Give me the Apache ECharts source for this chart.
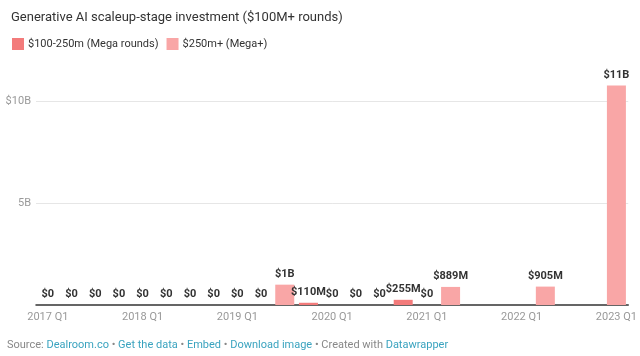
<!DOCTYPE html>
<html>
<head>
<meta charset="utf-8">
<script src="https://cdn.jsdelivr.net/npm/echarts@6/dist/echarts.min.js"></script>
<style>
html,body{margin:0;padding:0;background:#fff;}
#chart{width:640px;height:356px;}
</style>
</head>
<body>
<div id="chart"></div>
<script>
// Quarters 2017 Q1 .. 2023 Q1
const categories = [
  '2017 Q1','2017 Q2','2017 Q3','2017 Q4',
  '2018 Q1','2018 Q2','2018 Q3','2018 Q4',
  '2019 Q1','2019 Q2','2019 Q3','2019 Q4',
  '2020 Q1','2020 Q2','2020 Q3','2020 Q4',
  '2021 Q1','2021 Q2','2021 Q3','2021 Q4',
  '2022 Q1','2022 Q2','2022 Q3','2022 Q4',
  '2023 Q1'
];
// $M per quarter; null where the reference is hidden
const megaRounds = [0,0,0,0, 0,0,0,0, 0,0,0,110, 0,0,0,255, 0,0,null,null, null,0,null,null, 0];
const megaPlus   = [0,0,0,0, 0,0,0,0, 0,0,1000,0, 0,0,0,0, 0,889,null,null, null,905,null,null, 10800];
const yTickLabels = {0:'', 5000:'5B', 10000:'$10B'};

function fmtTotal(v){
  if (v === 0) return '$0';
  if (v >= 1000) return '$' + Math.round(v/1000) + 'B';
  return '$' + v + 'M';
}
const totals = categories.map((c,i)=> (megaRounds[i]==null && megaPlus[i]==null) ? null : (megaRounds[i]||0)+(megaPlus[i]||0));

const chart = echarts.init(document.getElementById('chart'), null, {renderer:'canvas'});
const FONT = 'Roboto, "Noto Sans", sans-serif';
chart.setOption({
  animation:false,
  textStyle:{fontFamily:FONT},
  title:{
    text:'Generative AI scaleup-stage investment ($100M+ rounds)',
    left:6, top:6,
    textStyle:{fontSize:13, fontWeight:'normal', color:'#333', fontFamily:FONT}
  },
  legend:{
    left:7, top:33, itemWidth:12, itemHeight:12, itemGap:8, icon:'rect',
    textStyle:{fontSize:11, color:'#333', fontFamily:FONT, padding:[0,0,0,-1]},
    data:['$100-250m (Mega rounds)','$250m+ (Mega+)']
  },
  grid:{left:36, right:11, top:61, bottom:51, containLabel:false},
  xAxis:{
    type:'category', data:categories,
    axisTick:{show:false},
    axisLine:{show:true, lineStyle:{color:'#333', width:1.5}},
    axisLabel:{interval:3, color:'#999', fontSize:11, margin:7, fontFamily:FONT}
  },
  yAxis:{
    type:'value', min:0, max:12000, interval:5000,
    axisLine:{show:false}, axisTick:{show:false},
    axisLabel:{showMaxLabel:false, color:'#999', fontSize:11, margin:5, fontFamily:FONT,
      formatter:v=> yTickLabels[v] !== undefined ? yTickLabels[v] : ''},
    splitLine:{show:true, lineStyle:{color:['rgba(0,0,0,0)','#e6e6e6','#e6e6e6','rgba(0,0,0,0)'], width:1}}
  },
  series:[
    {
      name:'$100-250m (Mega rounds)', type:'bar', stack:'t', data:megaRounds,
      barWidth:19, itemStyle:{color:'#f37b7b'}
    },
    {
      name:'$250m+ (Mega+)', type:'bar', stack:'t', data:megaPlus,
      barWidth:19, itemStyle:{color:'#f9a6a6'},
      label:{show:true, position:'top', distance:5, color:'#333', fontWeight:'bold', fontSize:11, fontFamily:FONT,
        formatter:p=> totals[p.dataIndex]==null ? '' : fmtTotal(totals[p.dataIndex])}
    }
  ],
  graphic:[{
    type:'text', left:7, top:340,
    style:{
      text:'{g|Source: }{b|Dealroom.co}{g| • }{b|Get the data}{g| • }{b|Embed}{g| • }{b|Download image}{g| • Created with }{b|Datawrapper}',
      rich:{
        g:{fill:'#888', fontSize:11, fontFamily:FONT},
        b:{fill:'#3aa3bf', fontSize:11, fontFamily:FONT}
      }
    }
  }]
});
</script>
</body>
</html>
